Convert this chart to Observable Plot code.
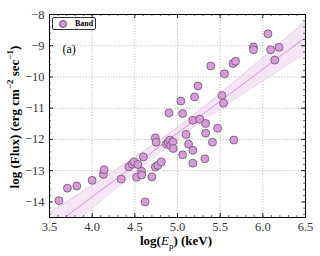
<!DOCTYPE html>
<html><head><meta charset="utf-8">
<script src="https://cdn.jsdelivr.net/npm/d3@7"></script>
<script src="https://cdn.jsdelivr.net/npm/@observablehq/plot@0.6"></script>
<style>
body{margin:0;background:#fff;}
#wrap{position:relative;width:320px;height:256px;font-family:"Liberation Serif",serif;color:#000;}
#wrap svg{position:absolute;left:0;top:0;}
.lab{position:absolute;white-space:nowrap;font-weight:bold;font-size:13px;}
#ylab{left:14px;top:117px;transform:translate(-50%,-50%) rotate(-90deg);}
#xlab{left:176px;top:242px;transform:translate(-50%,-50%);}
#legend{position:absolute;left:52px;top:17px;width:42px;height:11px;border:1px solid #333;border-radius:2px;background:#fff;font-size:8px;font-weight:bold;display:flex;align-items:center;}
#legend .mk{width:6px;height:6px;border-radius:50%;background:#d89ad8;border:0.7px solid #555;margin-left:6px;margin-right:8px;}
</style></head><body><div id="wrap"></div>
<script>
const seriesName = "Band";
const panelLabel = "(a)";
const logEp = [3.61,3.71,3.82,4.00,4.13,4.14,4.34,4.43,4.47,4.49,
  4.535,4.52,4.58,4.58,4.60,4.70,4.62,4.74,4.75,4.74,
  4.77,4.81,4.87,4.89,4.91,4.92,4.945,4.95,5.06,5.10,
  5.13,5.18,5.18,5.33,5.32,5.41,5.47,5.66,5.39,5.65,
  5.68,5.55,5.24,5.20,5.04,5.52,5.54,4.90,5.06,5.18,
  5.26,5.33,6.06,5.89,5.89,6.09,6.19,6.14];
const logFlux = [-13.96,-13.56,-13.49,-13.31,-13.12,-12.97,-13.27,-12.88,-12.79,-12.72,
  -12.80,-13.21,-13.02,-13.14,-12.56,-13.20,-14.00,-11.95,-12.09,-12.88,
  -12.83,-12.72,-12.15,-12.09,-12.02,-12.20,-12.08,-12.29,-12.49,-11.84,
  -12.15,-12.35,-12.76,-11.80,-12.62,-12.09,-11.64,-12.02,-9.65,-9.57,
  -9.50,-9.90,-10.29,-10.64,-10.77,-10.59,-10.84,-11.15,-11.17,-11.39,
  -11.35,-11.49,-8.62,-9.04,-9.13,-9.13,-9.05,-9.46];
const xTicks = [3.5,4.0,4.5,5.0,5.5,6.0,6.5];
const yTicks = [-14,-13,-12,-11,-10,-9,-8];
const xMinor = d3.range(35, 66).map(d => d / 10);
const yMinor = d3.range(-72, -39).map(d => d / 5);

const pts = logEp.map((x, i) => ({x, y: logFlux[i]}));

// least-squares fit and 95% confidence band of the mean, computed from the data
const n = pts.length;
const mx = d3.mean(logEp), my = d3.mean(logFlux);
const sxx = d3.sum(logEp, x => (x - mx) ** 2);
const sxy = d3.sum(pts, p => (p.x - mx) * (p.y - my));
const slope = sxy / sxx, icpt = my - slope * mx;
const s = Math.sqrt(d3.sum(pts, p => (p.y - (icpt + slope * p.x)) ** 2) / (n - 2));
const tq = 2.003;
const grid = d3.range(0, 61).map(i => 3.5 + i * 0.05).map(x => {
  const yh = icpt + slope * x;
  const h = tq * s * Math.sqrt(1 / n + (x - mx) ** 2 / sxx);
  return {x, yh, lo: yh - h, hi: yh + h};
});

const W = 320, H = 256, mT = 14, mB = 39, mL = 49, mR = 15;
const ih = H - mT - mB, iw = W - mL - mR;
const tk = 4, tkm = 2;

const plot = Plot.plot({
  width: W, height: H,
  marginTop: mT, marginBottom: mB, marginLeft: mL, marginRight: mR,
  style: {fontFamily: "Liberation Serif, serif", fontSize: "12.5px", background: "#fff", color: "#000"},
  x: {domain: [3.5, 6.5], axis: null},
  y: {domain: [-14.5, -8], axis: null},
  marks: [
    Plot.gridX(xTicks.slice(1, -1), {stroke: "#aaa", strokeOpacity: 1, strokeWidth: 0.8, strokeDasharray: "1.2,1.6"}),
    Plot.gridY(yTicks.slice(1, -1), {stroke: "#aaa", strokeOpacity: 1, strokeWidth: 0.8, strokeDasharray: "1.2,1.6"}),
    Plot.areaY(grid, {x: "x", y1: "lo", y2: "hi", fill: "#f3dcf3", fillOpacity: 0.75, clip: true}),
    Plot.line(grid, {x: "x", y: "lo", stroke: "#e6c6e6", strokeWidth: 0.9, clip: true}),
    Plot.line(grid, {x: "x", y: "hi", stroke: "#e6c6e6", strokeWidth: 0.9, clip: true}),
    Plot.line(grid, {x: "x", y: "yh", stroke: "#e08ce0", strokeWidth: 1, clip: true}),
    Plot.dot(pts, {x: "x", y: "y", r: 4, fill: "#d89ad8", stroke: "#5a4a5a", strokeWidth: 0.7}),
    Plot.text([panelLabel], {frameAnchor: "top-left", dx: 13, dy: 30, fontSize: 12, textAnchor: "start"}),
    // inward ticks on all four sides
    Plot.tickX(xTicks, {x: d => d, stroke: "#000", strokeWidth: 0.8, insetTop: ih - tk}),
    Plot.tickX(xMinor, {x: d => d, stroke: "#000", strokeWidth: 0.6, insetTop: ih - tkm}),
    Plot.tickX(xTicks, {x: d => d, stroke: "#000", strokeWidth: 0.8, insetBottom: ih - tk}),
    Plot.tickX(xMinor, {x: d => d, stroke: "#000", strokeWidth: 0.6, insetBottom: ih - tkm}),
    Plot.tickY(yTicks, {y: d => d, stroke: "#000", strokeWidth: 0.8, insetRight: iw - tk}),
    Plot.tickY(yMinor, {y: d => d, stroke: "#000", strokeWidth: 0.6, insetRight: iw - tkm}),
    Plot.tickY(yTicks, {y: d => d, stroke: "#000", strokeWidth: 0.8, insetLeft: iw - tk}),
    Plot.tickY(yMinor, {y: d => d, stroke: "#000", strokeWidth: 0.6, insetLeft: iw - tkm}),
    Plot.axisX(xTicks, {tickSize: 0, tickPadding: 5, tickFormat: d3.format(".1f"), label: null, fill: "#333"}),
    Plot.axisY(yTicks, {tickSize: 0, tickPadding: 5, tickFormat: d3.format("d"), label: null, fill: "#333"}),
    Plot.frame({stroke: "#000", strokeWidth: 1})
  ]
});

const wrap = document.getElementById("wrap");
wrap.appendChild(plot);
const ylab = document.createElement("div");
ylab.className = "lab"; ylab.id = "ylab";
ylab.innerHTML = "log (Flux) (erg cm<sup style='font-size:9px'>−2</sup> sec<sup style='font-size:9px'>−1</sup>)";
wrap.appendChild(ylab);
const xlab = document.createElement("div");
xlab.className = "lab"; xlab.id = "xlab";
xlab.innerHTML = "log(<i style='font-weight:normal'>E</i><sub style='font-size:9px;font-weight:normal'>p</sub>) (keV)";
wrap.appendChild(xlab);
const leg = document.createElement("div");
leg.id = "legend";
leg.innerHTML = "<span class='mk'></span><span>" + seriesName + "</span>";
wrap.appendChild(leg);
</script></body></html>
